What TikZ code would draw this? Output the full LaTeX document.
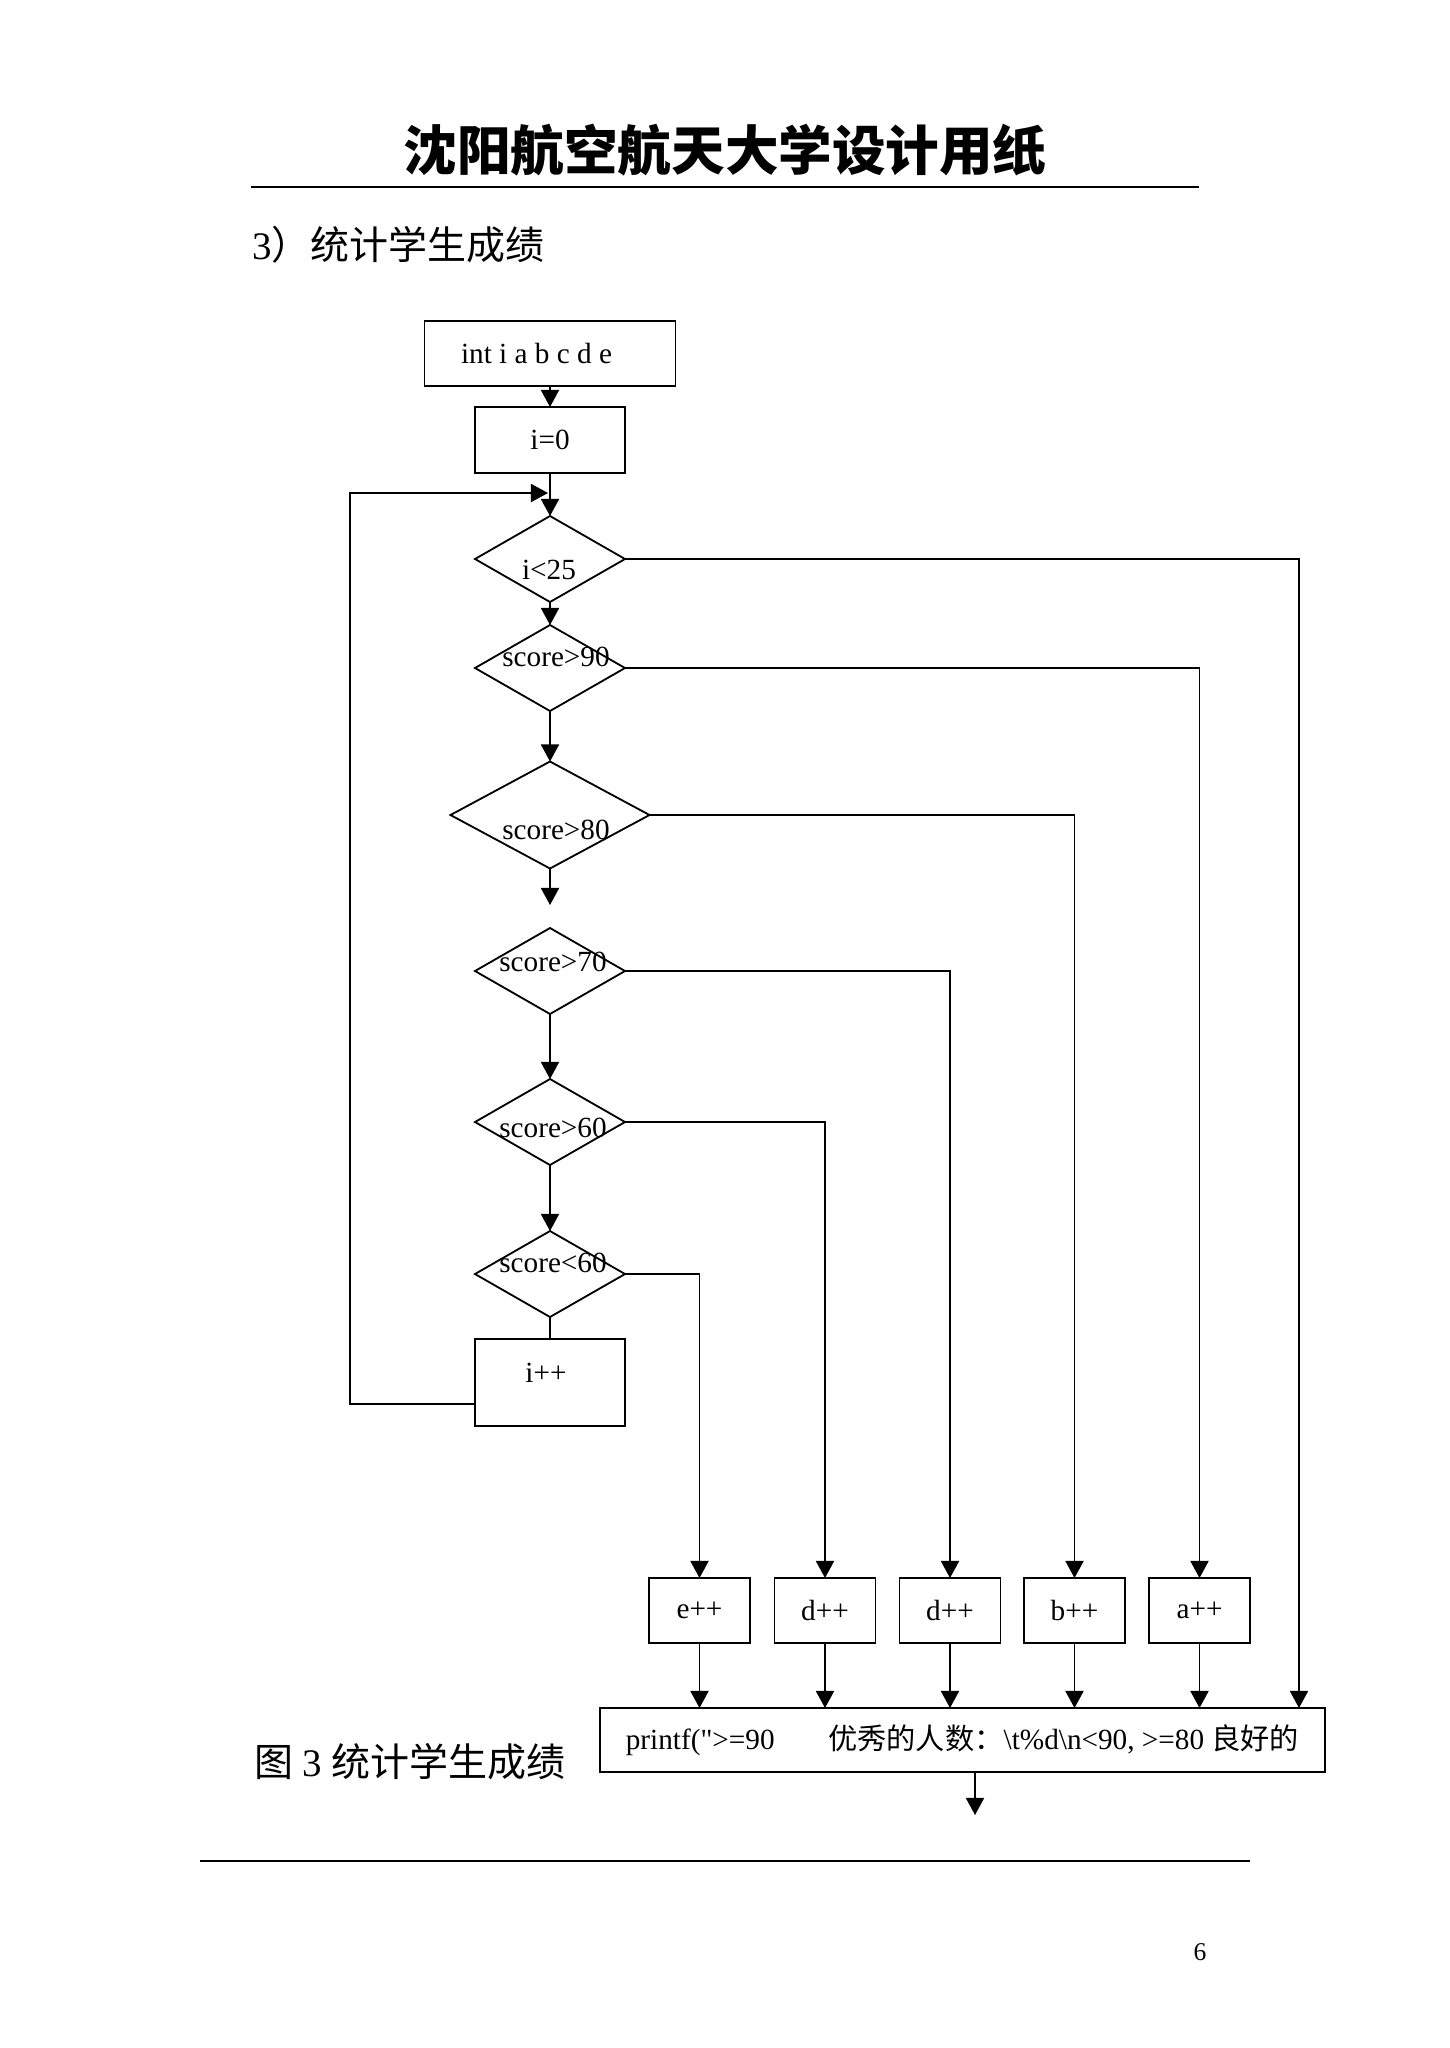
\documentclass[tikz,border=0pt]{standalone}
\usepackage{fontspec}
\setmainfont{Liberation Serif}[Ligatures=TeXOff]
\newfontfamily\cjk{Noto Sans CJK SC}
\usepackage{tikz}
\usetikzlibrary{shapes.geometric, arrows.meta, positioning}
\newcommand\pxu{0.4105pt}

\begin{document}
\begin{tikzpicture}[x=0.4105pt, y=-0.4105pt,
    font=\fontsize{12pt}{14pt}\selectfont, line width=0.75pt,
    arr/.style={-{Triangle[length=7pt, width=7.4pt]}},
    procbox/.style={rectangle, draw, inner sep=0pt, outer sep=0pt, minimum height=65*\pxu},
    decision/.style={diamond, draw, inner sep=0pt, outer sep=0pt,
      minimum width=150*\pxu, minimum height=86*\pxu},
    plain/.style={inner sep=0pt, outer sep=0pt}]
\fill[white] (0,0) rectangle (1450,2048);
\useasboundingbox (0,0) rectangle (1450,2048);

% page head and foot
\node[plain, font={\cjk\bfseries\fontsize{22pt}{26pt}\selectfont}] (title) at (725,150) {沈阳航空航天大学设计用纸};
\draw[line width=0.9pt] (251,187) -- (1199,187);
\node[plain, anchor=west, font=\fontsize{16pt}{19pt}\selectfont] (heading) at (252,245) {3{\cjk ）统计学生成绩}};
\node[plain, anchor=west, font=\fontsize{16pt}{19pt}\selectfont] (caption) at (254,1762) {{\cjk 图} 3 {\cjk 统计学生成绩}};
\draw (200,1861) -- (1250,1861);
\node[plain, font=\fontsize{10.5pt}{12pt}\selectfont] (pageno) at (1200,1952) {6};

% main column
\node[procbox, minimum width=251*\pxu, label={[xshift=-13.5*\pxu]center:int i a b c d e}] (decl) at (550,353.5) {};
\node[procbox, minimum width=150*\pxu, minimum height=66*\pxu] (init) at (550,440) {i=0};
\node[decision, label={[xshift=-1*\pxu, yshift=-11*\pxu]center:{i<25}}] (lt25) at (550,559) {};
\node[decision, label={[xshift=6*\pxu, yshift=11*\pxu]center:{score>90}}] (gt90) at (550,668) {};
\node[decision, minimum width=199*\pxu, minimum height=107*\pxu,
      label={[xshift=6*\pxu, yshift=-15*\pxu]center:{score>80}}] (gt80) at (550,815) {};
\node[decision, label={[xshift=3*\pxu, yshift=9*\pxu]center:{score>70}}] (gt70) at (550,971) {};
\node[decision, label={[xshift=3*\pxu, yshift=-6*\pxu]center:{score>60}}] (gt60) at (550,1122) {};
\node[decision, label={[xshift=3*\pxu, yshift=11*\pxu]center:{score<60}}] (lt60) at (550,1274) {};
\node[procbox, minimum width=150*\pxu, minimum height=87*\pxu,
      label={[xshift=-4*\pxu, yshift=9.5*\pxu]center:i++}] (incr) at (550,1382.5) {};

% counters and output
\node[procbox, minimum width=101*\pxu] (e60) at (699.5,1610.5) {e++};
\node[procbox, minimum width=101*\pxu] (d60) at (825,1610.5) {d++};
\node[procbox, minimum width=101*\pxu] (d70) at (950,1610.5) {d++};
\node[procbox, minimum width=101*\pxu] (b80) at (1074.5,1610.5) {b++};
\node[procbox, minimum width=101*\pxu] (a90) at (1199.5,1610.5) {a++};
\node[procbox, minimum width=725*\pxu, minimum height=64*\pxu] (printf) at (962.5,1740)
  {printf(">=90\hspace{22pt}{\cjk 优秀的人数：}\textbackslash t\%d\textbackslash n<90, >=80 {\cjk 良好的}};

\coordinate (loopin) at (548,493);
\coordinate (gapend) at (550,905);
\coordinate (outend) at (975,1815);

\draw[arr] (decl) -- (init);
\draw[arr] (init) -- (lt25);
\draw[arr] ([yshift=-21.5*\pxu]incr.west) -- ++(-125,0) |- (loopin);
\draw[arr] (lt25) -- (gt90);
\draw[arr] (gt90) -- (gt80);
\draw[arr] (gt80) -- (gapend);
\draw[arr] (gt70) -- (gt60);
\draw[arr] (gt60) -- (lt60);
\draw (lt60) -- (incr);

\draw[arr] (lt25.east) -| ([xshift=336.5*\pxu]printf.north);
\draw[arr] (gt90.east) -| (a90.north);
\draw[arr] (gt80.east) -| (b80.north);
\draw[arr] (gt70.east) -| (d70.north);
\draw[arr] (gt60.east) -| (d60.north);
\draw[arr] (lt60.east) -| (e60.north);

\draw[arr] (e60.south) -- (e60.south |- printf.north);
\draw[arr] (d60.south) -- (d60.south |- printf.north);
\draw[arr] (d70.south) -- (d70.south |- printf.north);
\draw[arr] (b80.south) -- (b80.south |- printf.north);
\draw[arr] (a90.south) -- (a90.south |- printf.north);
\draw[arr] (printf.south -| outend) -- (outend);
\end{tikzpicture}
\end{document}
